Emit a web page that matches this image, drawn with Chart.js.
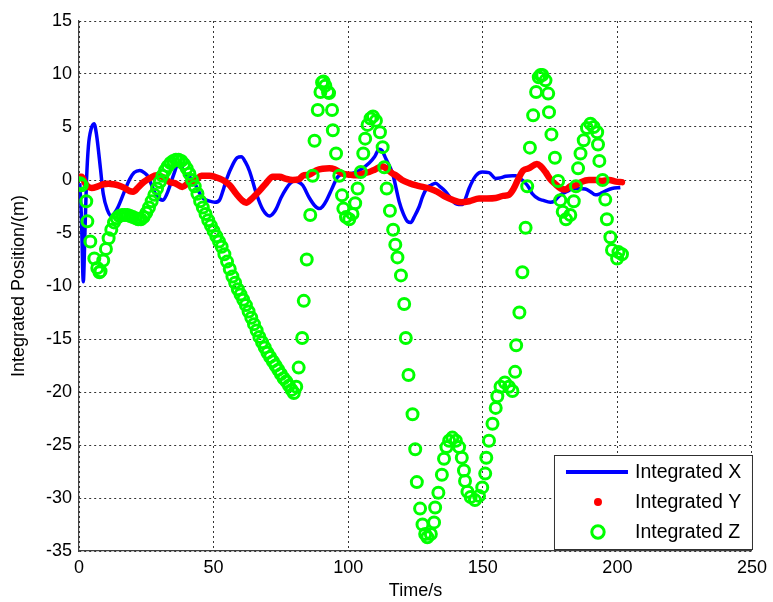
<!DOCTYPE html>
<html><head><meta charset="utf-8">
<script src="https://cdn.jsdelivr.net/npm/chart.js@4/dist/chart.umd.min.js"></script>
<style>html,body{margin:0;padding:0;background:#fff}#wrap{width:773px;height:602px}</style>
</head><body><div id="wrap"><canvas id="c" width="773" height="602"></canvas></div>
<script>
// ---- data ----
const seriesNames = ['Integrated X', 'Integrated Y', 'Integrated Z'];
const xAxisTitle = 'Time/s';
const yAxisTitle = 'Integrated Position/(m)';

const xTime = [0.3,0.9,1.6,2.2,2.8,3.5,4.5,5.6,6.5,8.0,9.0,10.5,12.1,13.5,14.6,17.0,18.9,20.5,22.6,24.2,25.7,27.3,28.8,31.2,32.5,33.7,35.3,36.8,38.0,39.3,42.4,44.3,46.0,48.5,50.5,52.2,53.5,54.7,57.2,58.8,60.3,61.8,63.4,65.9,68.3,70.8,72.3,73.3,75.0,77.0,78.5,80.0,81.6,83.1,85.6,87.5,89.3,90.5,92.0,94.0,96.1,98.5,100.4,104.1,107.8,109.8,111.5,112.5,114.0,116.5,118.9,120.5,122.0,123.3,124.5,126.4,127.6,129.4,130.7,132.5,134.0,136.2,138.0,139.7,141.0,142.4,143.5,144.9,147.4,149.8,152.3,154.8,156.5,158.5,161.0,162.2,164.0,165.5,167.1,168.4,170.8,172.1,175.1,176.5,178.0,179.5,181.9,183.5,185.6,188.1,190.0,191.8,193.5,195.5,198.0,201.1];
const xVals = [-0.3,-3.5,-9.6,-5.0,0.0,3.2,4.8,5.3,4.3,1.0,-1.3,-2.8,-3.4,-3.0,-2.5,-1.0,0.1,0.7,0.9,0.7,0.3,-0.7,-1.5,-1.9,-1.4,-0.6,0.6,1.5,1.3,0.6,0.0,-1.0,-1.7,-2.0,-2.1,-1.9,-1.0,0.0,1.5,2.1,2.2,1.7,0.8,-1.3,-2.8,-3.4,-3.1,-2.7,-1.7,-0.8,-0.3,-0.1,-0.2,-0.5,-1.7,-2.4,-2.7,-2.5,-1.9,-0.8,0.3,0.6,0.6,0.9,1.6,2.2,2.9,2.8,2.0,0.6,-2.0,-3.2,-3.9,-4.0,-3.5,-2.5,-1.6,-0.7,-0.5,-0.3,-0.6,-1.1,-1.7,-2.2,-2.3,-2.3,-1.8,-0.8,0.4,0.75,0.7,0.15,0.2,0.35,0.4,0.4,0.1,-0.2,-0.7,-1.3,-1.8,-1.9,-2.1,-2.0,-1.6,-1.3,-1.0,-0.8,-0.8,-0.85,-1.1,-1.4,-1.3,-1.05,-0.8,-0.7];

const yTime = [0.3,1.0,2.5,4.7,7.0,9.0,10.9,12.7,14.6,16.5,18.9,20.1,22.0,24.0,26.5,28.8,31.0,33.7,35.6,38.4,40.5,43.4,45.5,48.5,50.4,53.4,56.0,58.4,60.5,62.1,64.0,67.1,69.5,72.0,74.5,77.0,79.4,81.9,83.1,85.6,88.1,90.5,93.0,95.0,98.0,100.5,102.9,105.5,107.8,110.0,112.8,114.5,116.5,117.7,120.0,122.7,126.0,130.1,133.0,136.2,139.0,142.2,145.0,148.6,151.5,154.8,157.5,159.7,161.5,163.0,165.0,167.1,170.1,171.5,173.3,175.0,177.0,179.0,180.7,182.5,184.5,186.5,189.4,192.0,194.3,197.0,199.5,201.7];
const yVals = [0.3,0.3,-0.4,-0.75,-0.6,-0.4,-0.35,-0.4,-0.5,-0.7,-1.05,-1.1,-0.7,-0.2,0.2,0.44,0.3,-0.2,-0.3,-0.65,-0.3,0.0,0.4,0.4,0.3,0.0,-0.5,-1.3,-1.9,-2.15,-1.8,-1.0,-0.3,0.3,0.3,0.1,0.0,0.1,0.4,0.5,0.9,1.07,1.1,1.0,0.6,0.5,0.44,0.6,0.75,1.0,1.3,1.0,0.6,0.44,0.0,-0.3,-0.55,-0.8,-1.1,-1.6,-1.9,-2.1,-2.0,-1.75,-1.75,-1.7,-1.5,-1.4,-0.8,0.0,0.9,1.1,1.5,1.3,0.75,0.1,-0.4,-0.8,-0.9,-0.6,-0.5,-0.2,0.0,0.0,-0.1,0.0,-0.15,-0.2];

const zTime = [0.4,1.0,2.7,3.1,4.2,5.7,6.8,7.6,8,9,10,11,12,13,14,15,16,17,18,19,20,21,22,23,24,25,26,27,28,29,30,31,32,33,34,35,36,37,38,39,40,41,42,43,44,45,46,47,48,49,50,51,52,53,54,55,56,57,58,59,60,61,62,63,64,65,66,67,68,69,70,71,72,73,74,75,76,77,78,79,79.8,80.7,81.6,82.9,83.5,84.6,85.9,86.8,87.5,88.7,89.7,90.3,90.8,91.5,92.5,92.9,94.0,94.3,95.5,96.7,97.7,98.2,99.2,100.4,101.6,102.6,103.5,104.7,105.6,106.3,107.2,108.3,109.2,110.3,111.8,112.8,113.4,114.3,115.5,116.7,117.5,118.3,119.6,120.8,121.4,122.4,123.9,124.9,125.5,126.7,127.6,128.6,129.4,130.7,131.9,132.3,133.5,134.8,135.6,136.5,137.5,138.7,140.0,141.2,142.2,143.0,143.4,144.3,145.5,147.1,148.6,149.8,150.9,151.3,152.3,153.6,154.8,155.4,156.6,158.2,159.7,161.0,162.0,162.4,163.6,164.7,165.9,166.5,167.5,168.7,169.8,170.8,171.5,172.1,173.3,174.3,174.6,175.5,176.8,178.0,178.8,179.7,180.9,182.5,183.8,184.6,185.4,186.3,187.5,188.7,190.0,191.2,192.5,192.8,193.3,194.5,195.5,196.1,197.4,198.0,199.9,200.4,201.7];
const zVals = [-0.3,-0.5,-2.0,-3.9,-5.8,-7.4,-8.3,-8.7,-8.6,-7.6,-6.5,-5.5,-4.7,-4.0,-3.6,-3.4,-3.3,-3.3,-3.3,-3.4,-3.5,-3.6,-3.7,-3.7,-3.5,-3.1,-2.6,-2.0,-1.4,-0.8,-0.2,0.4,0.9,1.3,1.6,1.8,1.9,1.9,1.8,1.5,1.1,0.6,0.0,-0.6,-1.3,-2.0,-2.6,-3.2,-3.8,-4.3,-4.8,-5.3,-5.8,-6.3,-7.0,-7.7,-8.4,-9.1,-9.7,-10.3,-10.8,-11.3,-11.8,-12.4,-13.0,-13.6,-14.2,-14.8,-15.3,-15.8,-16.3,-16.7,-17.1,-17.5,-17.9,-18.3,-18.7,-19.0,-19.4,-19.8,-20.1,-19.5,-17.7,-14.9,-11.4,-7.5,-3.3,0.4,3.7,6.6,8.3,9.2,9.3,8.9,8.3,8.2,6.6,4.7,2.5,0.4,-1.45,-2.7,-3.5,-3.7,-3.2,-2.2,-0.8,0.75,2.5,3.9,5.2,5.8,6.0,5.6,4.5,3.1,1.2,-0.8,-2.9,-4.7,-6.1,-7.3,-9.0,-11.7,-14.9,-18.4,-22.1,-25.4,-28.5,-31.0,-32.5,-33.4,-33.7,-33.4,-32.3,-30.9,-29.5,-27.8,-26.3,-25.2,-24.6,-24.3,-24.6,-25.2,-26.2,-27.4,-28.4,-29.4,-29.9,-30.2,-29.8,-29.0,-27.7,-26.2,-24.6,-23.0,-21.5,-20.4,-19.5,-19.1,-19.5,-19.9,-18.1,-15.6,-12.5,-8.7,-4.5,-0.6,3.05,6.1,8.3,9.7,9.9,9.9,9.4,8.15,6.4,4.3,2.1,-0.1,-1.9,-3.0,-3.7,-3.3,-2.0,-0.6,1.1,2.5,3.75,4.9,5.3,5.0,4.5,3.35,1.8,0.0,-1.85,-3.7,-5.4,-6.6,-7.4,-6.8,-7.0];

const xRange = [0, 250], xStep = 50;
const yRange = [-35, 15], yStep = 5;

// ---- chart ----
const FONT = "'Liberation Sans', Arial, sans-serif";
const pts = (t, v) => t.map((x, i) => ({x: x, y: v[i]}));

const boxLegend = {
  id: 'boxLegend',
  afterDatasetsDraw(chart) {
    const ctx = chart.ctx, a = chart.chartArea;
    const w = 198, h = 94;
    const L = a.right - w, T = a.bottom - h - 2;
    ctx.save();
    ctx.fillStyle = '#ffffff';
    ctx.fillRect(L, T, w, h);
    ctx.strokeStyle = '#303030';
    ctx.lineWidth = 1;
    ctx.strokeRect(L + 0.5, T + 0.5, w, h);
    const rows = [T + 17, T + 47, T + 77];
    const sx = L + 44;
    ctx.strokeStyle = '#0000ff'; ctx.lineWidth = 4;
    ctx.beginPath(); ctx.moveTo(L + 12, rows[0]); ctx.lineTo(L + 74, rows[0]); ctx.stroke();
    ctx.fillStyle = '#ff0000';
    ctx.beginPath(); ctx.arc(sx, rows[1], 4, 0, Math.PI * 2); ctx.fill();
    ctx.strokeStyle = '#00ff00'; ctx.lineWidth = 3;
    ctx.beginPath(); ctx.arc(sx, rows[2], 6.2, 0, Math.PI * 2); ctx.stroke();
    ctx.fillStyle = '#000000';
    ctx.font = '19.5px ' + FONT;
    ctx.textBaseline = 'middle';
    ctx.textAlign = 'left';
    seriesNames.forEach((n, i) => ctx.fillText(n, L + 81, rows[i] + 1));
    ctx.restore();
  }
};

new Chart(document.getElementById('c'), {
  type: 'scatter',
  data: {
    datasets: [
      { label: seriesNames[0], data: pts(xTime, xVals), showLine: true, borderColor: '#0000ff', borderWidth: 3.5,
        pointRadius: 0, cubicInterpolationMode: 'monotone', order: 3 },
      { label: seriesNames[1], data: pts(yTime, yVals), showLine: true, borderColor: '#ff0000', borderWidth: 6.5,
        pointRadius: 0, cubicInterpolationMode: 'monotone', borderCapStyle: 'round', borderJoinStyle: 'round', order: 2 },
      { label: seriesNames[2], data: pts(zTime, zVals), showLine: false, borderColor: '#00ff00', backgroundColor: 'rgba(0,0,0,0)',
        pointStyle: 'circle', pointRadius: 5.5, pointBorderWidth: 3, borderWidth: 3, order: 1 }
    ]
  },
  options: {
    responsive: false,
    animation: false,
    devicePixelRatio: 1,
    layout: { padding: { top: 21, right: 20, left: 0, bottom: 0 } },
    plugins: { legend: { display: false }, tooltip: { enabled: false } },
    scales: {
      x: {
        type: 'linear', min: xRange[0], max: xRange[1],
        ticks: { stepSize: xStep, color: '#000', font: { family: FONT, size: 18 }, padding: 6, maxRotation: 0 },
        grid: { color: 'rgba(0,0,0,0.8)', lineWidth: 1, drawTicks: false },
        border: { display: true, color: '#404040', width: 1.2, dash: [2, 3] },
        title: { display: true, text: xAxisTitle, color: '#000', font: { family: FONT, size: 18 }, padding: { top: 0, bottom: 0 } },
        afterFit(s) { s.height = 51; }
      },
      y: {
        type: 'linear', min: yRange[0], max: yRange[1],
        ticks: { stepSize: yStep, color: '#000', font: { family: FONT, size: 18 }, padding: 7 },
        grid: { color: 'rgba(0,0,0,0.8)', lineWidth: 1, drawTicks: false },
        border: { display: true, color: '#404040', width: 1.2, dash: [2, 3] },
        title: { display: true, text: yAxisTitle, color: '#000', font: { family: FONT, size: 18 }, padding: { top: 8, bottom: 0 } },
        afterFit(s) { s.width = 79; }
      }
    }
  },
  plugins: [boxLegend]
});
</script></body></html>
